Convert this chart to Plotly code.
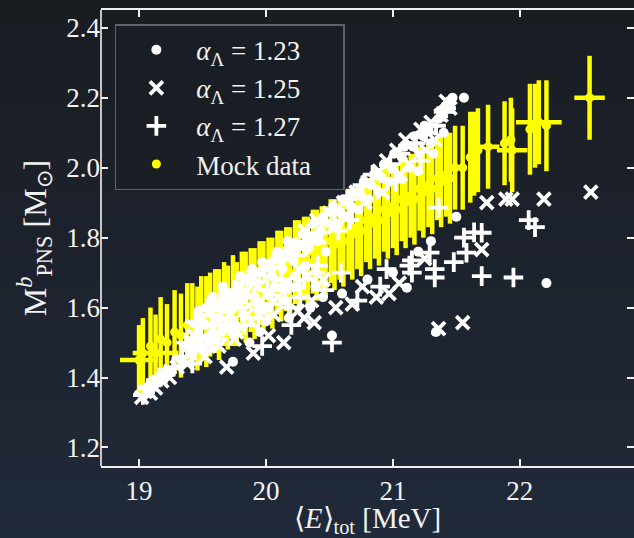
import plotly.graph_objects as go

# ---------------- data ----------------
mock_e = [19.00, 19.03, 19.09, 19.13, 19.17, 19.22, 19.28, 19.33, 19.38,
          19.42, 19.46, 19.49, 19.53, 19.56, 19.60, 19.63, 19.67, 19.70, 19.74,
          19.77, 19.81, 19.84, 19.88, 19.91, 19.95, 19.98, 20.02, 20.05, 20.09,
          20.12, 20.16, 20.19, 20.23, 20.26, 20.30, 20.33, 20.37, 20.40, 20.44,
          20.47, 20.51, 20.54, 20.58, 20.61, 20.65, 20.68, 20.72, 20.75, 20.79,
          20.82, 20.86, 20.89, 20.93, 20.96, 21.00, 21.03, 21.07, 21.10, 21.14,
          21.17, 21.21, 21.24, 21.28, 21.31, 21.35, 21.38, 21.42, 21.45, 21.49,
          21.55, 21.61, 21.64, 21.67, 21.75, 21.94, 21.88, 21.93, 22.08, 22.12,
          22.15, 22.21, 22.55]
mock_m = [1.45, 1.47, 1.49, 1.47, 1.51, 1.50, 1.53, 1.52, 1.55,
          1.55, 1.54, 1.57, 1.56, 1.58, 1.59, 1.58, 1.61, 1.60, 1.62,
          1.61, 1.64, 1.63, 1.65, 1.64, 1.67, 1.66, 1.68, 1.67, 1.70,
          1.69, 1.71, 1.70, 1.73, 1.72, 1.74, 1.73, 1.76, 1.75, 1.77,
          1.76, 1.79, 1.78, 1.80, 1.79, 1.82, 1.81, 1.83, 1.82, 1.85,
          1.84, 1.86, 1.85, 1.88, 1.87, 1.89, 1.88, 1.91, 1.90, 1.92,
          1.91, 1.94, 1.93, 1.95, 1.94, 1.97, 1.96, 1.98, 1.97, 2.00,
          2.00, 2.03, 2.04, 2.05, 2.06, 2.05, 2.07, 2.08, 2.11, 2.12,
          2.13, 2.12, 2.20]
mock_xerr = [0.15, 0.03, 0.02, 0.18, 0.02, 0.03, 0.02, 0.03, 0.03,
             0.03, 0.03, 0.03, 0.03, 0.03, 0.03, 0.03, 0.03, 0.03, 0.03,
             0.03, 0.03, 0.03, 0.03, 0.03, 0.03, 0.03, 0.03, 0.03, 0.03,
             0.03, 0.03, 0.03, 0.03, 0.03, 0.03, 0.03, 0.03, 0.03, 0.03,
             0.03, 0.03, 0.03, 0.03, 0.03, 0.03, 0.03, 0.03, 0.03, 0.03,
             0.03, 0.03, 0.03, 0.03, 0.03, 0.03, 0.03, 0.03, 0.03, 0.03,
             0.03, 0.03, 0.03, 0.03, 0.03, 0.03, 0.03, 0.03, 0.03, 0.03,
             0.03, 0.03, 0.03, 0.03, 0.09, 0.12, 0.03, 0.03, 0.03, 0.03,
             0.18, 0.03, 0.12]
mock_yerr = [0.10, 0.10, 0.11, 0.11, 0.12, 0.11, 0.12, 0.12, 0.12,
             0.12, 0.12, 0.12, 0.13, 0.12, 0.12, 0.13, 0.12, 0.12, 0.13,
             0.12, 0.12, 0.13, 0.12, 0.13, 0.12, 0.13, 0.12, 0.13, 0.12,
             0.13, 0.12, 0.13, 0.12, 0.13, 0.12, 0.13, 0.12, 0.13, 0.12,
             0.13, 0.12, 0.13, 0.12, 0.13, 0.12, 0.13, 0.12, 0.13, 0.12,
             0.13, 0.12, 0.13, 0.12, 0.13, 0.12, 0.13, 0.12, 0.13, 0.12,
             0.13, 0.12, 0.13, 0.12, 0.13, 0.12, 0.13, 0.12, 0.13, 0.12,
             0.12, 0.13, 0.12, 0.12, 0.12, 0.12, 0.12, 0.12, 0.13, 0.12,
             0.12, 0.13, 0.12]

e123 = [19.06, 19.14, 19.22, 19.33, 19.42, 19.47, 19.52, 19.56, 19.60, 19.63, 19.68, 19.72,
        19.74, 19.78, 19.82, 19.86, 19.87, 19.91, 19.95, 19.99, 20.03, 20.07, 20.11, 20.15,
        20.19, 20.23, 20.27, 20.31, 20.35, 20.39, 20.43, 20.47, 20.50, 20.52, 20.59,
        20.67, 20.75, 20.83, 20.91, 20.99, 21.07,
        21.11, 21.16, 21.20, 21.24, 21.28, 21.32, 21.34, 21.44, 21.50,
        21.56, 22.21, 20.45, 20.00,
        19.48, 19.53, 19.58, 19.62, 19.66, 19.70, 19.76, 19.80, 19.84, 19.89, 19.93, 19.97,
        20.01, 20.05, 20.09, 20.13, 20.17, 20.21, 20.25, 20.29, 20.33, 20.37, 20.41, 20.45,
        20.53, 20.57, 20.61, 20.65, 20.69, 20.73, 20.77, 20.81, 20.85, 20.89, 20.93,
        20.97, 21.01, 21.05, 21.09, 21.13, 21.17, 21.21, 21.25, 21.30, 21.36, 21.40, 21.47,
        19.55, 19.65, 19.76, 19.95, 20.18, 20.35, 20.60, 20.80, 21.00, 21.20, 21.30]
m123 = [1.37, 1.39, 1.42, 1.45, 1.47, 1.59, 1.55, 1.61, 1.52, 1.57, 1.64, 1.60,
        1.445, 1.66, 1.58, 1.68, 1.50, 1.63, 1.70, 1.60, 1.72, 1.66, 1.74, 1.62,
        1.76, 1.69, 1.78, 1.72, 1.80, 1.66, 1.82, 1.76, 1.84, 1.52, 1.87,
        1.89, 1.92, 1.95, 1.97, 2.00, 2.03,
        1.657, 2.06, 1.99, 2.09, 2.11, 2.04, 1.53, 2.19, 1.86,
        2.20, 1.67, 1.63, 1.56,
        1.57, 1.60, 1.63, 1.60, 1.66, 1.63, 1.62, 1.69, 1.64, 1.71, 1.67, 1.73,
        1.64, 1.69, 1.76, 1.71, 1.79, 1.74, 1.66, 1.81, 1.77, 1.84, 1.79, 1.86,
        1.89, 1.84, 1.91, 1.86, 1.93, 1.88, 1.96, 1.91, 1.98, 1.93, 2.01,
        1.96, 2.04, 1.97, 2.06, 2.00, 2.09, 2.04, 2.12, 2.07, 2.14, 2.10, 2.20,
        1.50, 1.53, 1.55, 1.53, 1.57, 1.60, 1.64, 1.68, 1.70, 1.76, 1.79]

e125 = [19.02, 19.05, 19.09, 19.13, 19.18, 19.24, 19.30, 19.38, 19.46, 19.52, 19.58, 19.63,
        19.69, 19.72, 19.77, 19.83, 19.88, 19.94, 19.98, 20.04, 20.09, 20.14, 20.17, 20.22,
        20.28, 20.33, 20.38, 20.42, 20.53, 20.64, 20.68, 20.78,
        20.87, 20.92, 20.97, 21.06, 21.13, 21.26, 21.33, 21.36, 21.45, 21.55,
        21.70, 21.74, 21.89, 21.94, 22.19, 22.56, 20.25, 19.90,
        19.40, 19.43, 19.50, 19.55, 19.61, 19.66, 19.71, 19.75, 19.80, 19.85, 19.90, 19.96,
        20.00, 20.06, 20.11, 20.15, 20.20, 20.26, 20.31, 20.36, 20.40, 20.45, 20.50,
        20.61, 20.71, 20.76, 20.81, 20.89, 20.95, 21.03, 21.10, 21.22, 21.30,
        21.38, 21.42, 20.02, 20.30, 20.55, 21.05, 21.25]
m125 = [1.343, 1.36, 1.355, 1.37, 1.39, 1.40, 1.43, 1.44, 1.50, 1.46, 1.54, 1.49,
        1.43, 1.58, 1.53, 1.62, 1.56, 1.66, 1.59, 1.70, 1.63, 1.50, 1.74, 1.66,
        1.77, 1.69, 1.557, 1.80, 1.83, 1.86, 1.61, 1.90,
        1.63, 1.93, 1.64, 1.98, 2.01, 2.05, 2.08, 1.54, 2.17, 1.557,
        1.766, 1.90, 1.91, 1.91, 1.91, 1.93, 1.59, 1.47,
        1.47, 1.52, 1.57, 1.50, 1.60, 1.55, 1.63, 1.51, 1.66, 1.58, 1.69, 1.62,
        1.72, 1.58, 1.75, 1.67, 1.78, 1.71, 1.82, 1.62, 1.85, 1.68, 1.87,
        1.90, 1.93, 1.66, 1.96, 1.99, 2.02, 2.05, 2.08, 2.11, 2.13,
        2.15, 2.19, 1.52, 1.57, 1.60, 1.67, 1.74]

e127 = [19.03, 19.07, 19.11, 19.16, 19.21, 19.27, 19.34, 19.40, 19.44, 19.49, 19.54, 19.59,
        19.64, 19.70, 19.75, 19.80, 19.85, 19.92, 19.97, 20.01, 20.06, 20.12, 20.18, 20.24,
        20.30, 20.36, 20.41, 20.46, 20.52, 20.57, 20.66, 20.95,
        21.02, 21.13, 21.15, 21.22, 21.29, 21.33, 21.33, 21.36, 21.42, 21.56, 21.58,
        21.64, 21.70, 21.70, 21.95, 22.07, 22.12, 21.48,
        19.37, 19.42, 19.47, 19.52, 19.57, 19.62, 19.67, 19.73, 19.78, 19.83, 19.88, 19.94,
        19.99, 20.04, 20.10, 20.15, 20.21, 20.27, 20.33, 20.39, 20.44, 20.54, 20.59,
        20.64, 20.76, 20.84, 20.98, 21.06, 21.18, 21.26, 21.34, 21.40,
        20.20, 20.72, 20.90, 21.15]
m127 = [1.35, 1.37, 1.38, 1.40, 1.41, 1.43, 1.46, 1.49, 1.56, 1.52, 1.60, 1.55,
        1.62, 1.57, 1.65, 1.60, 1.67, 1.61, 1.49, 1.65, 1.73, 1.68, 1.60, 1.75,
        1.68, 1.79, 1.72, 1.65, 1.50, 1.82, 1.85, 1.71,
        1.96, 1.72, 1.735, 2.02, 1.757, 1.686, 1.71, 1.886, 2.17, 1.80, 1.757,
        1.815, 1.69, 1.814, 1.686, 1.85, 1.83, 1.73,
        1.50, 1.44, 1.55, 1.48, 1.58, 1.51, 1.61, 1.54, 1.64, 1.55, 1.68, 1.57,
        1.71, 1.61, 1.74, 1.65, 1.77, 1.63, 1.81, 1.70, 1.84, 1.88, 1.70,
        1.91, 1.95, 1.98, 2.01, 2.04, 2.07, 2.10, 2.12, 2.16,
        1.55, 1.62, 1.66, 1.70]

labels = ["<i>α</i><sub>Λ</sub> = 1.23", "<i>α</i><sub>Λ</sub> = 1.25",
          "<i>α</i><sub>Λ</sub> = 1.27", "Mock data&nbsp;&nbsp;&nbsp;&nbsp;"]

x_ticks = [19, 20, 21, 22]
y_ticks = [1.2, 1.4, 1.6, 1.8, 2.0, 2.2, 2.4]

# ---------------- figure ----------------
FONT = "Liberation Serif"
W, H = 634, 538
ML, MR, MT, MB = 101, 0, 10, 72
TXT = "#f2f2f2"
LINE = "#f0f0f0"
YEL = "#ffff00"

fig = go.Figure()

fig.add_trace(go.Scatter(
    x=mock_e, y=mock_m, mode="markers", name=labels[3], legendrank=4,
    marker=dict(symbol="circle", size=9, color=YEL),
    error_x=dict(type="data", array=mock_xerr, color=YEL, thickness=4.5, width=0),
    error_y=dict(type="data", array=mock_yerr, color=YEL, thickness=4.5, width=0),
))
fig.add_trace(go.Scatter(
    x=e123, y=m123, mode="markers", name=labels[0], legendrank=1,
    marker=dict(symbol="circle", size=10, color="white"),
))
fig.add_trace(go.Scatter(
    x=e125, y=m125, mode="markers", name=labels[1], legendrank=2,
    marker=dict(symbol="x-thin", size=13, color="white", line=dict(color="white", width=3.8)),
))
fig.add_trace(go.Scatter(
    x=e127, y=m127, mode="markers", name=labels[2], legendrank=3,
    marker=dict(symbol="cross-thin", size=14, color="white", line=dict(color="white", width=3.8)),
))

# vertical background gradient (paper coordinates extend into the margins)
top_rgb = (25, 28, 33)
bot_rgb = (33, 42, 58)
n_strips = 40
plot_h = H - MT - MB
y_top = 1 + MT / plot_h
y_bot = -MB / plot_h
shapes = []
for i in range(n_strips):
    f = (i + 0.5) / n_strips
    c = tuple(round(top_rgb[k] + (bot_rgb[k] - top_rgb[k]) * f) for k in range(3))
    y1 = y_top - (y_top - y_bot) * i / n_strips
    y0 = y_top - (y_top - y_bot) * (i + 1) / n_strips
    shapes.append(dict(type="rect", xref="paper", yref="paper", x0=-0.3, x1=1.2,
                       y0=y0 - 0.002, y1=y1 + 0.002, line=dict(width=0),
                       fillcolor="rgb(%d,%d,%d)" % c, layer="below"))
# left spine (the right one lies just outside the picture)
shapes.append(dict(type="line", xref="paper", yref="paper", x0=0, x1=0, y0=0, y1=1,
                   line=dict(color=LINE, width=1.6), layer="above"))

tick_common = dict(showgrid=False, zeroline=False, ticks="inside", ticklen=7, tickwidth=1.5,
                   tickcolor=LINE, tickfont=dict(family=FONT, size=27, color=TXT))

fig.update_layout(
    width=W, height=H, margin=dict(l=ML, r=MR, t=MT, b=MB),
    paper_bgcolor="rgb(28,33,42)", plot_bgcolor="rgba(0,0,0,0)",
    shapes=shapes, showlegend=True,
    font=dict(family=FONT, color=TXT),
    xaxis=dict(range=[18.70, 22.90], tickvals=x_ticks, ticktext=[str(v) for v in x_ticks],
               showline=True, linecolor=LINE, linewidth=1.6, mirror="ticks",
               title=dict(text="⟨<i>E</i>⟩<sub>tot</sub> [MeV]", standoff=7,
                          font=dict(family=FONT, size=29, color=TXT)),
               **tick_common),
    yaxis=dict(range=[1.147, 2.451], tickvals=y_ticks, ticktext=["%.1f" % v for v in y_ticks],
               showline=False, mirror="ticks",
               title=dict(text="M<sup><i>b</i></sup><sub>PNS</sub> [M<sub>⊙</sub>]", standoff=10,
                          font=dict(family=FONT, size=32, color=TXT)),
               **tick_common),
    legend=dict(x=0.026, y=0.969, xanchor="left", yanchor="top",
                bgcolor="rgba(26,30,37,0.85)", bordercolor="rgba(110,115,125,0.8)", borderwidth=1.5,
                font=dict(family=FONT, size=27, color=TXT),
                itemwidth=70, traceorder="normal"),
)

fig.write_html("out.html")
